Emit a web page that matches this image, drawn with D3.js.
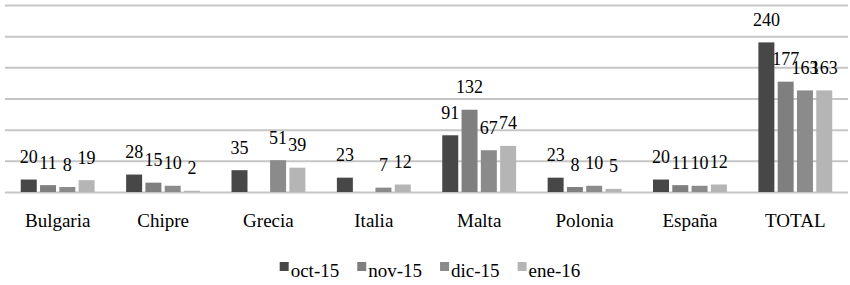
<!DOCTYPE html>
<html>
<head>
<meta charset="utf-8">
<script src="https://cdn.jsdelivr.net/npm/d3@7"></script>
<style>
    body { margin: 0; background: #fff; }
    svg { display: block; }
    text { font-family: "Liberation Serif", "DejaVu Serif", serif; }
</style>
</head>
<body>
<div id="chart"></div>
<script>
// Datos
const paises = ["Bulgaria", "Chipre", "Grecia", "Italia", "Malta", "Polonia", "España", "TOTAL"];
const meses = ["oct-15", "nov-15", "dic-15", "ene-16"];
const oct15 = [20, 28, 35, 23, 91, 23, 20, 240];
const nov15 = [11, 15, null, null, 132, 8, 11, 177];
const dic15 = [8, 10, 51, 7, 67, 10, 10, 163];
const ene16 = [19, 2, 39, 12, 74, 5, 12, 163];
const yTicks = [0, 50, 100, 150, 200, 250, 300];

const series = [oct15, nov15, dic15, ene16];
const colores = ["#474747", "#7f7f7f", "#8b8b8b", "#b5b5b5"];

const W = 850, H = 285;
const m = { left: 5, right: 848, top: 5, bottom: 192 };
const fuente = "'Liberation Serif', 'Times New Roman', serif";

const svg = d3.select("#chart").append("svg")
    .attr("width", W)
    .attr("height", H);

// Escalas
const x0 = d3.scaleBand()
    .domain(paises)
    .range([m.left, m.right])
    .paddingInner(0.299)
    .paddingOuter(0.1495);

const x1 = d3.scaleBand()
    .domain(meses)
    .range([0, x0.bandwidth()])
    .paddingInner(0.171);

const y = d3.scaleLinear()
    .domain([0, 300])
    .range([m.bottom, m.top]);

const color = d3.scaleOrdinal().domain(meses).range(colores);

// Lineas de cuadricula
const grid = svg.append("g")
    .attr("transform", `translate(${m.left},0)`)
    .call(d3.axisRight(y).tickValues(yTicks).tickSize(m.right - m.left).tickFormat(""));
grid.select(".domain").remove();
grid.selectAll("line")
    .attr("stroke", "#c6c6c6")
    .attr("stroke-width", 2);

// Filas de datos
const filas = paises.map((p, i) => ({
    pais: p,
    valores: meses.map((mes, j) => ({ mes: mes, valor: series[j][i] }))
}));

const grupos = svg.selectAll(".grupo")
    .data(filas)
    .enter()
    .append("g")
    .attr("class", "grupo")
    .attr("transform", d => `translate(${x0(d.pais)},0)`);

grupos.selectAll("rect")
    .data(d => d.valores.filter(v => v.valor !== null))
    .enter()
    .append("rect")
    .attr("x", d => x1(d.mes))
    .attr("y", d => y(d.valor))
    .attr("width", x1.bandwidth())
    .attr("height", d => y(0) - y(d.valor))
    .attr("fill", d => color(d.mes));

// Etiquetas de valores
grupos.selectAll("text")
    .data(d => d.valores.filter(v => v.valor !== null))
    .enter()
    .append("text")
    .attr("x", d => x1(d.mes) + x1.bandwidth() / 2)
    .attr("y", d => y(d.valor) - 16.5)
    .attr("text-anchor", "middle")
    .style("font-family", fuente)
    .style("font-size", "18px")
    .attr("fill", "#000")
    .text(d => d.valor);

// Etiquetas del eje X
svg.append("g")
    .selectAll("text")
    .data(paises)
    .enter()
    .append("text")
    .attr("x", d => x0(d) + x0.bandwidth() / 2)
    .attr("y", 227)
    .attr("text-anchor", "middle")
    .style("font-family", fuente)
    .style("font-size", "19px")
    .attr("fill", "#000")
    .text(d => d);

// Leyenda
const leyenda = svg.append("g");
const items = leyenda.selectAll("g")
    .data(meses)
    .enter()
    .append("g");

items.append("rect")
    .attr("y", 262)
    .attr("width", 9)
    .attr("height", 9)
    .attr("fill", d => color(d));

items.append("text")
    .attr("x", 11)
    .attr("y", 277)
    .style("font-family", fuente)
    .style("font-size", "19px")
    .attr("fill", "#000")
    .text(d => d);

let pos = 0;
const posiciones = [];
items.each(function () {
    posiciones.push(pos);
    pos += 11 + d3.select(this).select("text").node().getComputedTextLength() + 18;
});
const total = pos - 18;
const inicio = 430 - total / 2;
items.attr("transform", (d, i) => `translate(${inicio + posiciones[i]},0)`);
</script>
</body>
</html>
